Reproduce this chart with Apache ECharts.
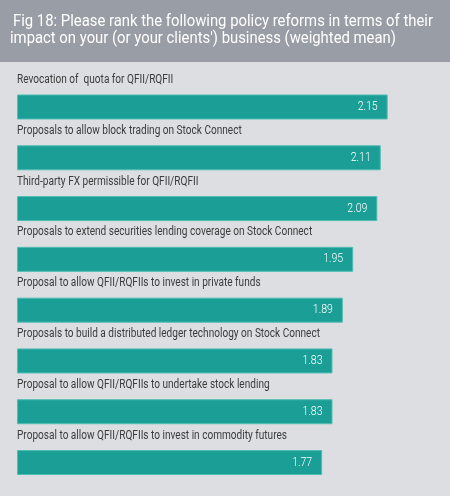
<!DOCTYPE html>
<html>
<head>
<meta charset="utf-8">
<script src="https://cdn.jsdelivr.net/npm/echarts@6/dist/echarts.min.js"></script>
<style>
html,body{margin:0;padding:0;background:#dddee2;}
#c{width:450px;height:496px;}
</style>
</head>
<body>
<div id="c"></div>
<script>
const titleLines = [
  'Fig 18: Please rank the following policy reforms in terms of their',
  "impact on your (or your clients') business (weighted mean)"
];
const categories = [
  'Revocation of  quota for QFII/RQFII',
  'Proposals to allow block trading on Stock Connect',
  'Third-party FX permissible for QFII/RQFII',
  'Proposals to extend securities lending coverage on Stock Connect',
  'Proposal to allow QFII/RQFIIs to invest in private funds',
  'Proposals to build a distributed ledger technology on Stock Connect',
  'Proposal to allow QFII/RQFIIs to undertake stock lending',
  'Proposal to allow QFII/RQFIIs to invest in commodity futures'
];
const values = [2.15, 2.11, 2.09, 1.95, 1.89, 1.83, 1.83, 1.77];

const FONT = "Roboto";
const mctx = document.createElement('canvas').getContext('2d');
function fontStr(weight, size) { return 'normal ' + weight + ' ' + size + 'px ' + FONT; }
function textWidth(t, weight, size) { mctx.font = fontStr(weight, size); return mctx.measureText(t).width; }

const TITLE_SIZE = 17, LABEL_SIZE = 12.5, VALUE_SIZE = 12;
const titleScale = Math.min(1, 420 / textWidth(titleLines[0], 'normal', TITLE_SIZE));
const labelScale = Math.min(1, 303 / textWidth(categories[5], 'normal', LABEL_SIZE));
const valueScale = Math.min(1, 20 / textWidth('2.15', 300, VALUE_SIZE));

const chart = echarts.init(document.getElementById('c'), null, {renderer: 'canvas'});
chart.setOption({
  backgroundColor: '#dddee2',
  animation: false,
  graphic: [{
    type: 'rect', left: 0, top: 0, z: -1,
    shape: {width: 450, height: 62},
    style: {fill: '#999da5'}
  }, {
    type: 'text', x: 13, y: 21.7, scaleX: titleScale,
    style: {text: titleLines[0], fill: '#ffffff', font: fontStr('normal', TITLE_SIZE), align: 'left', verticalAlign: 'middle'}
  }, {
    type: 'text', x: 10, y: 39, scaleX: titleScale,
    style: {text: titleLines[1], fill: '#ffffff', font: fontStr('normal', TITLE_SIZE), align: 'left', verticalAlign: 'middle'}
  }],
  grid: {left: 17, width: 431, top: 81.6, height: 406.3, containLabel: false},
  xAxis: {type: 'value', min: 0, max: 2.5, show: false},
  yAxis: {type: 'category', data: categories, inverse: true, show: false},
  series: [{
    type: 'bar',
    data: values,
    barWidth: 25,
    itemStyle: {color: '#1a9e96', borderColor: '#4fbdb3', borderWidth: 1},
    z: 2
  }, {
    type: 'custom',
    data: values.map((v, i) => [v, i]),
    encode: {x: 0, y: 1},
    silent: true,
    z: 3,
    renderItem: function (params, api) {
      const v = api.value(0), idx = api.value(1);
      const start = api.coord([0, idx]);
      const end = api.coord([v, idx]);
      return {
        type: 'group',
        children: [{
          type: 'text', x: start[0], y: start[1] - 27, scaleX: labelScale,
          style: {text: categories[idx], fill: '#3b3b3b', font: fontStr('normal', LABEL_SIZE), align: 'left', verticalAlign: 'middle'}
        }, {
          type: 'text', x: end[0] - 10, y: end[1], scaleX: valueScale,
          style: {text: v.toFixed(2), fill: '#ffffff', font: fontStr(300, VALUE_SIZE), align: 'right', verticalAlign: 'middle'}
        }]
      };
    }
  }]
});
</script>
</body>
</html>
